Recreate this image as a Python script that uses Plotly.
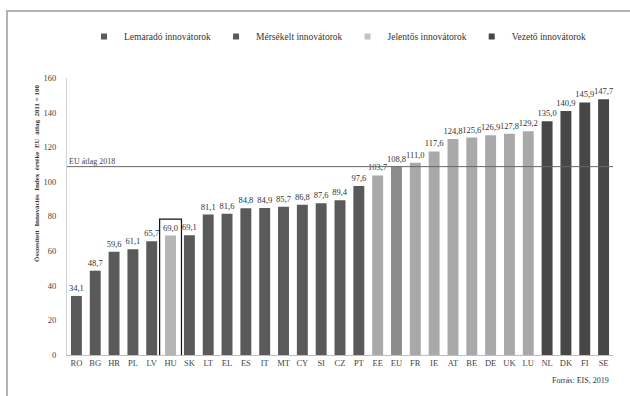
import plotly.graph_objects as go

countries = ["RO", "BG", "HR", "PL", "LV", "HU", "SK", "LT", "EL", "ES", "IT", "MT", "CY", "SI", "CZ",
             "PT", "EE", "EU", "FR", "IE", "AT", "BE", "DE", "UK", "LU", "NL", "DK", "FI", "SE"]
values = [34.1, 48.7, 59.6, 61.1, 65.7, 69.0, 69.1, 81.1, 81.6, 84.8, 84.9, 85.7, 86.8, 87.6, 89.4,
          97.6, 103.7, 108.8, 111.0, 117.6, 124.8, 125.6, 126.9, 127.8, 129.2, 135.0, 140.9, 145.9, 147.7]
groups = ["L", "L", "M", "M", "M", "M", "M", "M", "M", "M", "M", "M", "M", "M", "M",
          "M", "J", "EU", "J", "J", "J", "J", "J", "J", "J", "V", "V", "V", "V"]
group_names = {"L": "Lemaradó innovátorok", "M": "Mérsékelt innovátorok",
               "J": "Jelentős innovátorok", "V": "Vezető innovátorok"}
eu_average_2018 = 108.8
highlight = "HU"

FONT = "Liberation Serif"
bar_colors = {"L": "#5a5a5a", "M": "#5a5a5a", "J": "#a9a9a9", "EU": "#8c8c8c", "V": "#474747"}
legend_colors = {"L": "#5a5a5a", "M": "#5a5a5a", "J": "#c2c2c2", "V": "#444444"}

colors = []
for c, g in zip(countries, groups):
    colors.append("#b5b5b5" if c == highlight else bar_colors[g])

labels = [f"{v:.1f}".replace(".", ",") for v in values]

fig = go.Figure()
fig.add_trace(go.Bar(
    x=countries, y=values, marker=dict(color=colors, line=dict(width=0)),
    text=labels, textposition="outside", constraintext="none", cliponaxis=False,
    textfont=dict(family=FONT, size=8.5, color="#333333"),
    showlegend=False, hoverinfo="x+y",
))
for key in ["L", "M", "J", "V"]:
    fig.add_trace(go.Scatter(
        x=[None], y=[None], mode="markers", name=group_names[key],
        marker=dict(symbol="square", size=6, color=legend_colors[key]),
    ))

L, R, T, B = 67, 17, 78, 41
W, H = 630, 396
pw, ph = W - L - R, H - T - B

def px(x):
    return (x - L) / pw

def py(y):
    return (H - B - y) / ph

hu_idx = countries.index(highlight)
shapes = [
    dict(type="line", xref="paper", yref="y", x0=0, x1=1, y0=eu_average_2018, y1=eu_average_2018,
         line=dict(color="#666666", width=1)),
    dict(type="rect", xref="x", yref="y", x0=hu_idx - 0.58, x1=hu_idx + 0.58, y0=-10.5, y1=78.5,
         line=dict(color="#111111", width=1.2)),
    dict(type="rect", xref="paper", yref="paper", x0=px(7), x1=px(700), y0=py(11), y1=py(450),
         line=dict(color="#b3b3b3", width=2), layer="below"),
]

annotations = [
    dict(text="EU átlag 2018", xref="paper", yref="y", x=0, y=eu_average_2018, xanchor="left",
         yanchor="bottom", showarrow=False, font=dict(family=FONT, size=8, color="#444444"), yshift=-1),
    dict(text="<b>Összesített  Innovációs  Index  értéke  EU  átlag  2011 = 100</b>", xref="paper", yref="paper",
         x=px(37), y=py(173), textangle=-90, showarrow=False, font=dict(family=FONT, size=7, color="#333333"),
         xanchor="center", yanchor="middle"),
    dict(text="Forrás: EIS, 2019", xref="paper", yref="paper", x=px(611), y=py(380),
         xanchor="right", yanchor="middle", showarrow=False, font=dict(family=FONT, size=8, color="#333333")),
]

fig.update_layout(
    width=W, height=H,
    margin=dict(l=L, r=R, t=T, b=B, pad=0),
    paper_bgcolor="white", plot_bgcolor="white",
    font=dict(family=FONT, size=9, color="#333333"),
    bargap=0.42,
    xaxis=dict(type="category", categoryorder="array", categoryarray=countries,
               showline=True, linecolor="#bfbfbf", linewidth=1, showgrid=False, ticks="",
               tickfont=dict(family=FONT, size=8.5, color="#444444")),
    yaxis=dict(range=[0, 160], dtick=20, showgrid=False, zeroline=False, showline=True,
               linecolor="#d0d0d0", linewidth=1, ticks="", ticklabelstandoff=8,
               tickfont=dict(family=FONT, size=8.5, color="#444444")),
    legend=dict(orientation="h", x=px(84), xanchor="left", y=py(22), yanchor="top",
                itemwidth=30, tracegroupgap=0,
                font=dict(family=FONT, size=9.5, color="#333333"), bgcolor="rgba(0,0,0,0)"),
    shapes=shapes, annotations=annotations,
)

fig.write_html("out.html")
